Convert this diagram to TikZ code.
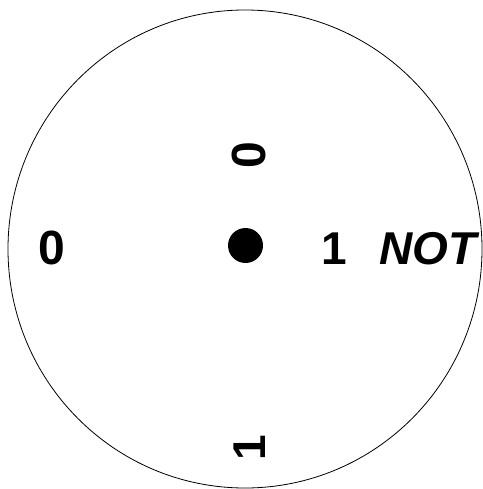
\documentclass[tikz,border=0pt]{standalone}
\usepackage{fontspec}
\setmainfont{Liberation Sans}
\begin{document}
\begin{tikzpicture}[x=1pt,y=-1pt,
  lbl/.style={inner sep=0pt, font=\fontsize{48}{48}\selectfont\bfseries},
  lbls/.style={inner sep=0pt, font=\fontsize{46}{46}\selectfont\bfseries}]
\useasboundingbox[fill=white] (0,0) rectangle (482,489);
\draw[line width=0.8pt] (245,249) ellipse [x radius=237, y radius=239];
\node[lbl] (zl) at (51.5,247.5) {0};
\fill (245.5,245.5) circle (17.5) coordinate (dot);
\node[lbls] (one) at (334,248.5) {1};
\node[lbls, font=\fontsize{46}{46}\selectfont\bfseries\itshape] (not) at (428,248.5) {NOT};
\node[lbl, rotate=90] (zt) at (249,155.5) {0};
\node[lbls, rotate=90] (ob) at (250,448) {1};
\end{tikzpicture}
\end{document}
